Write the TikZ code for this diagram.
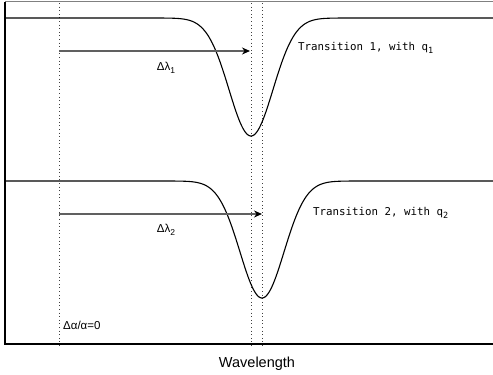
\documentclass[tikz,border=0pt]{standalone}
\usepackage{fontspec}
\setmainfont{Liberation Sans}
\newfontfamily\monof{DejaVu Sans Mono}
\usetikzlibrary{arrows.meta}
\newcommand\lowsub[1]{\raisebox{-0.5ex}{\fontsize{8.5}{9}\selectfont #1}}
\begin{document}
\begin{tikzpicture}[x=1pt,y=-1pt,
  curveline/.style={black, line width=1.1pt},
  frameline/.style={black, line width=1.2pt},
  topline/.style={gray, line width=1.2pt},
  guide/.style={gray!50!black, line width=1pt, dash pattern=on 1pt off 2.6pt},
  shiftarrow/.style={draw=gray!75!black, line width=1.3pt, -{Stealth[black,length=8pt,width=7pt]}},
  lbl/.style={font=\fontsize{11.5}{13}\selectfont, inner sep=0pt},
  translbl/.style={font=\monof\fontsize{10.8}{12}\selectfont, inner sep=0pt, anchor=west}
]
\useasboundingbox (0,0) rectangle (493,375);
% frame
\coordinate (TL) at (5,1.5);
\coordinate (TR) at (493,1.5);
\coordinate (BL) at (5,344);
\coordinate (BR) at (493,344);
\draw[topline] (TL) -- (TR);
\draw[frameline] (TL) -- (BL) -- (BR);
% guides
\coordinate (g0t) at (59,3);   \coordinate (g0b) at (59,347);
\coordinate (g1t) at (251,3);  \coordinate (g1b) at (251,347);
\coordinate (g2t) at (262,3);  \coordinate (g2b) at (262,347);
\draw[guide] (g0t) -- (g0b);
\draw[guide] (g1t) -- (g1b);
\draw[guide] (g2t) -- (g2b);
% curves
\draw[curveline] (5,18) -- (150,18) -- plot[domain=150:352,samples=160] (\x,{18+118*exp(-0.5*((\x-251)/22)^2)}) -- (493,18);
\draw[curveline] (5,181) -- (160,181) -- plot[domain=160:364,samples=160] (\x,{181+117*exp(-0.5*((\x-262)/22)^2)}) -- (493,181);
% arrows
\coordinate (a1s) at (59,51);  \coordinate (a1e) at (250,51);
\coordinate (a2s) at (59,214); \coordinate (a2e) at (262,214);
\draw[shiftarrow] (a1s) -- (a1e);
\draw[shiftarrow] (a2s) -- (a2e);
% labels
\node[lbl] (d1) at (166,68) {Δλ\lowsub{1}};
\node[lbl] (d2) at (166,230) {Δλ\lowsub{2}};
\node[translbl] (t1) at (298,48) {Transition 1, with q\lowsub{1}};
\node[translbl] (t2) at (313,213) {Transition 2, with q\lowsub{2}};
\node[lbl, anchor=west] (z) at (63,325) {Δα/α=0};
\node[font=\fontsize{14.5}{16}\selectfont, inner sep=0pt] (w) at (257,364) {Wavelength};
\end{tikzpicture}
\end{document}
